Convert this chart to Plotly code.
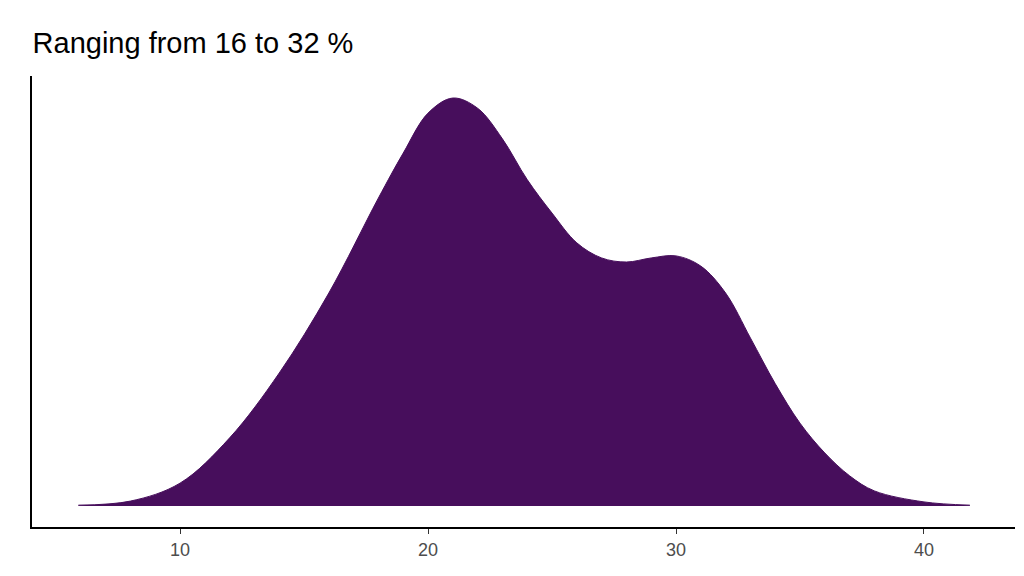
import plotly.graph_objects as go

x_vals = [5.9, 8, 10, 12, 14, 16, 18, 19, 20, 21, 22, 23, 24, 25, 26, 27, 28, 29, 30, 31, 32, 33, 34, 35, 36, 37, 38, 40, 41.85]
density = [0.002, 0.012, 0.056, 0.167, 0.326, 0.522, 0.755, 0.865, 0.963, 1.0, 0.975, 0.90, 0.80, 0.718, 0.645, 0.608, 0.598, 0.608, 0.613, 0.588, 0.522, 0.412, 0.30, 0.203, 0.130, 0.074, 0.037, 0.010, 0.002]
tick_vals = [10, 20, 30, 40]

fig = go.Figure(go.Scatter(x=x_vals, y=density, mode="lines", line=dict(shape="spline", color="#470E5C", width=1),
                           fill="tozeroy", fillcolor="#470E5C", hoverinfo="skip"))
fig.update_layout(
    width=1024, height=576, plot_bgcolor="white", paper_bgcolor="white",
    margin=dict(l=24, r=17, t=68, b=57), showlegend=False,
    title=dict(text="Ranging from 16 to 32 %", x=0.024, xanchor="left", y=0.94, yanchor="middle",
               font=dict(family="Liberation Sans, Arial", size=29, color="black")),
    font=dict(family="Liberation Sans, Arial"),
)
fig.update_xaxes(range=[4.03, 43.67], tickvals=tick_vals, showgrid=False, zeroline=False,
                 showline=True, linecolor="black", linewidth=2, ticks="outside", ticklen=5,
                 tickcolor="#333", tickfont=dict(size=18, color="#4d4d4d"))
fig.update_yaxes(range=[-0.0515, 1.054], showticklabels=False, showgrid=False, zeroline=False,
                 showline=True, linecolor="black", linewidth=2, ticks="")
fig.write_html("out.html")
